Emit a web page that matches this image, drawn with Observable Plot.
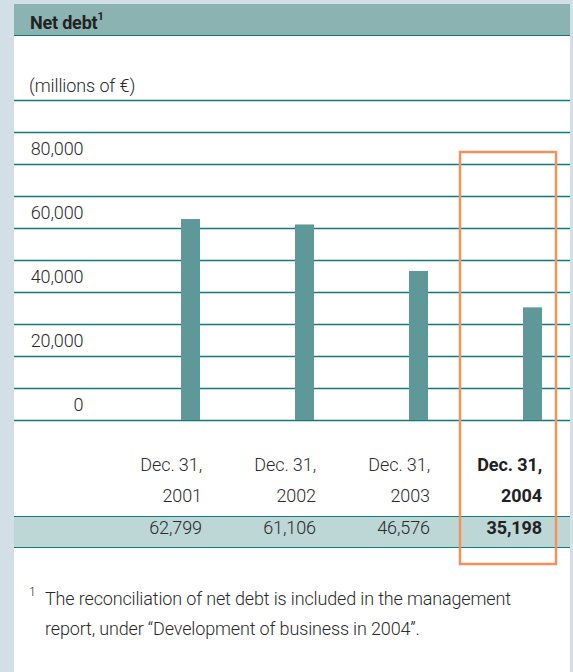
<!DOCTYPE html>
<html>
<head>
<meta charset="utf-8">
<script src="https://cdn.jsdelivr.net/npm/d3@7"></script>
<script src="https://cdn.jsdelivr.net/npm/@observablehq/plot@0.6"></script>
<style>
  html, body { margin: 0; padding: 0; }
  body { width: 573px; height: 672px; background: #d2dfe6; position: relative; overflow: hidden;
         font-family: Roboto, "Liberation Sans", sans-serif; color: #2a2a2a; }
  #panel { position: absolute; left: 14px; top: 4px; width: 556px; height: 668px; background: #fff; }
  #header { position: absolute; left: 14px; top: 4px; width: 556px; height: 31px; background: #8ab3b2;
            border-bottom: 1.5px solid #13797f; }
  #title { position: absolute; left: 16px; top: 5px; font-size: 18px; font-weight: 700; color: #222; line-height: 20px; letter-spacing: -0.2px; }
  #title sup { font-size: 11px; position: relative; top: -2px; }
  #unit { position: absolute; left: 29px; top: 76px; font-size: 18px; font-weight: 300; line-height: 20px; letter-spacing: -0.1px; }
  #band { position: absolute; left: 14px; top: 515.5px; width: 556px; height: 30.5px; background: #bdd6d6;
          border-top: 1.5px solid #13797f; border-bottom: 1.5px solid #13797f; }
  #chart { position: absolute; left: 14px; top: 36px; }
  #foot { position: absolute; left: 45px; top: 584px; width: 520px; font-size: 18px; font-weight: 300;
          line-height: 30px; letter-spacing: -0.15px; }
  #footmark { position: absolute; left: 29px; top: 585px; font-size: 12px; font-weight: 300; line-height: 14px; }
</style>
</head>
<body>
<div id="panel"></div>
<div id="header"><div id="title">Net debt<sup>1</sup></div></div>
<div id="unit">(millions of €)</div>
<div id="band"></div>
<div id="chart"></div>
<div id="footmark">1</div>
<div id="foot">The reconciliation of net debt is included in the management<br>report, under “Development of business in 2004”.</div>
<script>
const years = ["2001", "2002", "2003", "2004"];
const dateLabels = ["Dec. 31,", "Dec. 31,", "Dec. 31,", "Dec. 31,"];
const values = [62799, 61106, 46576, 35198];
const valueLabels = ["62,799", "61,106", "46,576", "35,198"];
const yTicks = [0, 20000, 40000, 60000, 80000];
const yTickLabels = ["0", "20,000", "40,000", "60,000", "80,000"];
const gridValues = [0, 10000, 20000, 30000, 40000, 50000, 60000, 70000, 80000, 90000, 100000];
const highlightYear = "2004";

const data = years.map((y, i) => ({year: y, date: dateLabels[i], value: values[i], label: valueLabels[i], bold: y === highlightYear}));
const ticks = yTicks.map((v, i) => ({value: v, label: yTickLabels[i]}));

const normal = data.filter(d => !d.bold);
const bold = data.filter(d => d.bold);

const textStyle = {fontFamily: "Roboto, sans-serif", fontSize: 18};

const chart = Plot.plot({
  width: 556,
  height: 540,
  marginLeft: 0,
  marginRight: 0,
  marginTop: 64,
  marginBottom: 156,
  style: {background: "transparent", overflow: "visible", letterSpacing: "-0.1px"},
  x: {type: "band", domain: years, range: [166, 529], paddingInner: 0.834, paddingOuter: 0, axis: null},
  y: {domain: [0, 100000], axis: null},
  marks: [
    Plot.ruleY(gridValues, {stroke: "#13797f", strokeWidth: 1.5}),
    Plot.barY(data, {x: "year", y: "value", fill: "#5f9898"}),
    Plot.text(ticks, {y: "value", text: "label", frameAnchor: "left", dx: 69, dy: -15, textAnchor: "end",
      fill: "#2a2a2a", fontWeight: 300, ...textStyle}),
    Plot.text(normal, {x: "year", text: "date", frameAnchor: "bottom", dy: 50, dx: 11, textAnchor: "end",
      fill: "#2a2a2a", fontWeight: 300, ...textStyle}),
    Plot.text(normal, {x: "year", text: "year", frameAnchor: "bottom", dy: 81, dx: 11, textAnchor: "end",
      fill: "#2a2a2a", fontWeight: 300, ...textStyle}),
    Plot.text(normal, {x: "year", text: "label", frameAnchor: "bottom", dy: 113, dx: 11, textAnchor: "end",
      fill: "#2a2a2a", fontWeight: 300, ...textStyle}),
    Plot.text(bold, {x: "year", text: "date", frameAnchor: "bottom", dy: 50, dx: 9, textAnchor: "end",
      fill: "#222", fontWeight: 700, ...textStyle}),
    Plot.text(bold, {x: "year", text: "year", frameAnchor: "bottom", dy: 81, dx: 9, textAnchor: "end",
      fill: "#222", fontWeight: 700, ...textStyle}),
    Plot.text(bold, {x: "year", text: "label", frameAnchor: "bottom", dy: 113, dx: 9, textAnchor: "end",
      fill: "#222", fontWeight: 700, ...textStyle}),
    Plot.cell(bold, {x: "year", fill: "none", stroke: "#f5915a", strokeWidth: 2.5,
      insetLeft: -63, insetRight: -14, insetTop: 52, insetBottom: -144})
  ]
});
document.getElementById("chart").appendChild(chart);
</script>
</body>
</html>
